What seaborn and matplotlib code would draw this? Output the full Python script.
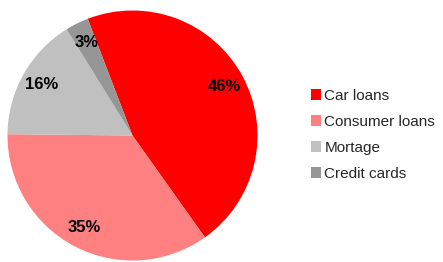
import matplotlib
matplotlib.use("Agg")
import matplotlib.pyplot as plt
import seaborn as sns
from matplotlib.patches import Patch

# Data
categories = ['Car loans', 'Consumer loans', 'Mortage', 'Credit cards']
shares = [46, 35, 16, 3]
colors = ['#FF0000', '#FF8080', '#C0C0C0', '#969696']

sns.set_style('white')
plt.rcParams['font.family'] = ['Liberation Sans', 'DejaVu Sans']
palette = sns.color_palette(colors)

fig = plt.figure(figsize=(4.43, 2.62), dpi=100)
ax = fig.add_axes([7.5 / 443, 1.5 / 262, 250 / 443, 250 / 262])

wedges, texts, autotexts = ax.pie(
    shares, colors=palette, startangle=111, counterclock=False,
    autopct='%.0f%%', pctdistance=0.83,
    wedgeprops={'linewidth': 0, 'edgecolor': 'none'},
    textprops={'fontsize': 12, 'fontweight': 'bold', 'color': 'black'},
)
ax.set_xlim(-1, 1)
ax.set_ylim(-1, 1)
ax.set_aspect('equal')

handles = [Patch(facecolor=c, edgecolor='none') for c in palette]
fig.legend(handles, categories, loc='upper left',
           bbox_to_anchor=(311 / 443, 1 - 89 / 262), frameon=False,
           fontsize=11, handlelength=0.68, handleheight=0.68,
           handletextpad=0.2, labelspacing=0.78, borderpad=0, borderaxespad=0)

fig.savefig('out.png', dpi=100)
